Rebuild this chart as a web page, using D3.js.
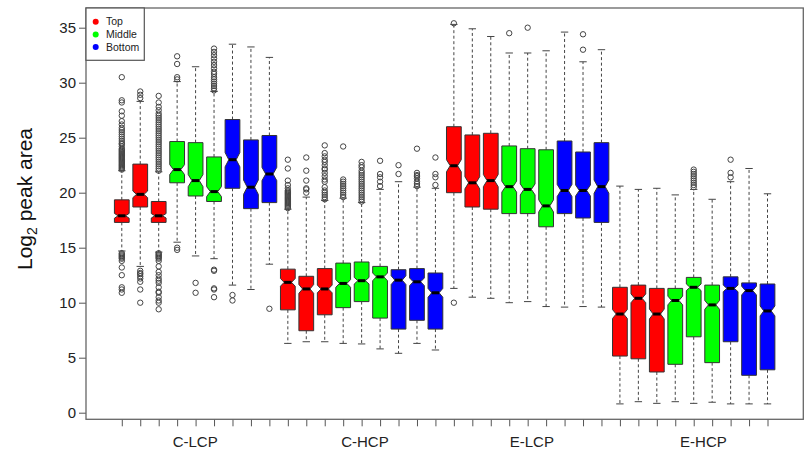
<!DOCTYPE html>
<html>
<head>
<meta charset="utf-8">
<script src="https://cdn.jsdelivr.net/npm/d3@7"></script>
<style>
  body { margin: 0; background: #fff; }
  text { font-family: "Liberation Sans", Arial, sans-serif; }
</style>
</head>
<body>
<script>
// groups of 9 boxes: 3 x Top, 3 x Middle, 3 x Bottom
const groups = ['C-LCP', 'C-HCP', 'E-LCP', 'E-HCP'];
const groupAt = [4.95, 14.15, 23.2, 32.5];
const layers = ['Top', 'Middle', 'Bottom'];
const layerColors = ['#ff0000', '#00ff00', '#0000ff'];
const yTicks = [0, 5, 10, 15, 20, 25, 30, 35];

const q1 = [17.3, 18.7, 17.3, 20.9, 19.7, 19.2, 20.4, 18.55, 19.1,
            9.35, 7.45, 8.9, 9.55, 10.1, 8.6, 7.6, 8.4, 7.6,
            20.0, 18.7, 18.5, 18.1, 18.1, 16.9, 18.1, 17.7, 17.3,
            5.15, 4.9, 3.7, 4.4, 6.9, 4.55, 6.45, 3.4, 3.9];
const med = [17.9, 19.85, 17.9, 22.1, 21.1, 20.1, 23.0, 20.5, 21.7,
             11.85, 11.25, 11.25, 11.75, 12.0, 12.35, 12.05, 11.9, 10.9,
             22.45, 20.9, 21.1, 20.55, 20.3, 18.8, 20.2, 20.2, 20.55,
             8.97, 10.4, 8.97, 10.2, 11.4, 9.8, 11.3, 11.1, 9.25];
const q3 = [19.35, 22.6, 19.2, 24.65, 24.55, 23.25, 26.65, 24.8, 25.2,
            13.05, 12.4, 13.1, 13.6, 13.7, 13.3, 13.0, 13.1, 12.7,
            26.0, 25.25, 25.4, 24.25, 24.0, 23.9, 24.7, 23.7, 24.55,
            11.4, 11.6, 11.3, 11.3, 12.3, 11.6, 12.35, 11.8, 11.7];
const lo = [14.7, 13.3, 14.6, 15.5, 14.25, 14.0, 11.6, 11.2, 13.5,
            6.3, 6.45, 6.45, 6.3, 6.25, 5.8, 5.4, 6.3, 5.7,
            11.3, 10.5, 10.4, 10.0, 10.1, 9.65, 9.6, 9.65, 9.6,
            0.8, 1.0, 0.85, 1.0, 0.85, 0.95, 0.8, 0.8, 0.8];
const hi = [22.0, 28.3, 21.9, 30.1, 31.45, 29.2, 33.5, 33.25, 32.3,
            18.5, 19.6, 19.3, 19.5, 19.1, 20.3, 21.0, 20.5, 20.4,
            35.3, 34.9, 34.2, 32.7, 32.7, 32.9, 34.6, 31.9, 33.0,
            20.6, 20.3, 20.4, 19.8, 20.3, 19.4, 21.0, 22.2, 19.9];
const notch = [0.22, 0.3, 0.2, 0.45, 0.55, 0.45, 0.65, 0.65, 0.6,
               0.35, 0.4, 0.35, 0.35, 0.3, 0.35, 0.4, 0.35, 0.4,
               0.55, 0.55, 0.55, 0.5, 0.5, 0.55, 0.55, 0.5, 0.6,
               0.4, 0.4, 0.45, 0.4, 0.3, 0.4, 0.3, 0.4, 0.45];
const outliers = [
  [22.1,22.2,22.3,22.4,22.5,22.6,22.7,22.8,22.9,23.0,23.1,23.2,23.3,23.4,23.5,23.6,23.7,23.8,23.9,24.0,
   24.2,24.4,24.5,24.7,24.9,25.1,25.3,25.5,25.7,25.9,26.2,26.5,27.0,27.4,28.2,28.4,30.5,
   14.5,14.4,14.3,14.2,14.1,14.0,13.8,13.2,12.5,11.4,11.2,10.9],
  [28.6,28.9,29.2, 12.9,12.7,12.6,12.4,12.2,11.9,11.2,10.0],
  [22.0,22.2,22.4,22.6,22.8,23.0,23.2,23.4,23.6,23.8,24.0,24.2,24.4,24.6,24.8,25.0,25.2,25.4,25.6,25.8,
   26.0,26.2,26.4,26.6,26.8,27.0,27.2,27.5,27.8,28.2,28.8,
   14.5,14.4,14.3,14.2,14.1,14.0,13.8,13.3,12.8,12.5,12.2,12.0,11.8,11.4,11.0,10.9,10.5,10.2,10.0,9.4],
  [30.3,30.5,31.7,32.4, 15.0,14.8],
  [11.8,10.9],
  [29.3,29.5,29.7,29.9,30.1,30.3,30.5,30.8,31.0,31.3,31.6,31.9,32.2,32.5,32.8,33.1, 13.0,12.9,11.3,11.2,10.5],
  [10.7,10.2],
  [],
  [9.45],
  [18.6,18.7,18.8,18.9,19.0,19.1,19.2,19.3,19.4,19.5,19.6,19.7,19.8,19.9,20.0,20.1,20.2,20.4,20.7,21.1,22.2,23.0],
  [20.0,20.3,20.4,21.1,22.0,23.2],
  [19.4,19.6,19.8,20.0,20.2,20.5,21.0,21.2,21.5,21.8,22.1,22.2,22.5,22.8,23.0,23.3,23.6,24.3],
  [19.6,19.8,20.0,20.2,20.4,20.6,20.8,21.0,21.2,24.2],
  [19.2,19.4,19.6,19.8,20.0,20.2,20.4,20.6,20.8,21.0,21.2,21.4,21.6,21.8,22.0,22.3,22.5,22.8],
  [20.6,21.0,21.4,21.7,22.9],
  [21.7,22.5],
  [20.6,20.8,21.0,21.3,21.5,21.6,21.8,24.0],
  [20.7,21.4,21.7,23.2],
  [35.4, 10.0],
  [], [],
  [34.5],
  [35.0],
  [], [],
  [33.0,34.4],
  [],
  [], [], [], [],
  [20.5,20.7,20.9,21.1,21.3,21.5,21.7,21.9,22.1],
  [],
  [21.4,21.8,23.0],
  [], []
];

const W = 807, H = 466;
const pL = 86, pR = 803.3, pT = 8, pB = 419.3;

const x = d3.scaleLinear().domain([-0.94, 37.94]).range([pL, pR]);
const y = d3.scaleLinear().domain([-0.6, 36.79]).range([pB, pT]);

const boxes = q1.map((d, i) => ({
  pos: i + 1, q1: d, med: med[i], q3: q3[i], lo: lo[i], hi: hi[i],
  n: notch[i], out: outliers[i], color: layerColors[Math.floor(i / 3) % 3]
}));

const svg = d3.select('body').append('svg')
    .attr('width', W)
    .attr('height', H);

// whiskers
const wh = svg.append('g');
boxes.forEach(b => {
  [[b.q3, b.hi], [b.q1, b.lo]].forEach(([a, e]) => {
    wh.append('line')
      .attr('x1', x(b.pos)).attr('x2', x(b.pos))
      .attr('y1', y(a)).attr('y2', y(e))
      .attr('stroke', '#444').attr('stroke-width', 1)
      .attr('stroke-dasharray', '3,2.5');
    wh.append('line')
      .attr('x1', x(b.pos - 0.2)).attr('x2', x(b.pos + 0.2))
      .attr('y1', y(e)).attr('y2', y(e))
      .attr('stroke', '#444').attr('stroke-width', 1);
  });
});

// notched boxes
const notchPath = b => {
  const x0 = x(b.pos - 0.4), x1 = x(b.pos + 0.4);
  const m0 = x(b.pos - 0.2), m1 = x(b.pos + 0.2);
  return `M${x0},${y(b.q1)}L${x0},${y(b.med - b.n)}L${m0},${y(b.med)}L${x0},${y(b.med + b.n)}` +
         `L${x0},${y(b.q3)}L${x1},${y(b.q3)}L${x1},${y(b.med + b.n)}L${m1},${y(b.med)}` +
         `L${x1},${y(b.med - b.n)}L${x1},${y(b.q1)}Z`;
};

svg.append('g').selectAll('path')
  .data(boxes)
  .join('path')
    .attr('d', notchPath)
    .attr('fill', d => d.color)
    .attr('stroke', '#333')
    .attr('stroke-width', 1);

svg.append('g').selectAll('line')
  .data(boxes)
  .join('line')
    .attr('x1', d => x(d.pos - 0.2))
    .attr('x2', d => x(d.pos + 0.2))
    .attr('y1', d => y(d.med))
    .attr('y2', d => y(d.med))
    .attr('stroke', '#000')
    .attr('stroke-width', 3);

// outliers
svg.append('g').selectAll('circle')
  .data(boxes.flatMap(b => b.out.map(v => ({ pos: b.pos, v }))))
  .join('circle')
    .attr('cx', d => x(d.pos))
    .attr('cy', d => y(d.v))
    .attr('r', 2.7)
    .attr('fill', 'none')
    .attr('stroke', '#444')
    .attr('stroke-width', 1);

// axes
const yAxis = svg.append('g')
    .attr('transform', `translate(${pL},0)`)
    .call(d3.axisLeft(y).tickValues(yTicks).tickSize(7).tickPadding(3));
yAxis.select('.domain').remove();
yAxis.selectAll('line').attr('stroke', '#555');
yAxis.selectAll('text').attr('font-size', 15).attr('fill', '#222')
    .style('font-family', '"Liberation Sans", Arial, sans-serif');

const xAxis = svg.append('g')
    .attr('transform', `translate(0,${pB})`)
    .call(d3.axisBottom(x).tickValues(d3.range(1, 37)).tickFormat('').tickSize(7));
xAxis.select('.domain').remove();
xAxis.selectAll('line').attr('stroke', '#555');

const gAxis = svg.append('g')
    .attr('transform', `translate(0,${pB})`)
    .call(d3.axisBottom(x).tickValues(groupAt).tickFormat((d, i) => groups[i]).tickSize(0).tickPadding(17));
gAxis.select('.domain').remove();
gAxis.selectAll('text').attr('font-size', 15).attr('fill', '#222')
    .style('font-family', '"Liberation Sans", Arial, sans-serif');

// frame
svg.append('rect')
    .attr('x', pL).attr('y', pT)
    .attr('width', pR - pL).attr('height', pB - pT)
    .attr('fill', 'none').attr('stroke', '#666').attr('stroke-width', 1.3);

// y title
const yt = svg.append('text')
    .attr('transform', 'translate(31.5,199) rotate(-90)')
    .attr('text-anchor', 'middle')
    .attr('font-size', 21)
    .attr('fill', '#111');
yt.append('tspan').text('Log');
yt.append('tspan').attr('font-size', 14).attr('dy', 5).text('2');
yt.append('tspan').attr('dy', -5).text(' peak area');

// legend
const lg = svg.append('g');
lg.append('rect')
    .attr('x', pL).attr('y', pT)
    .attr('width', 58.3).attr('height', 52.3)
    .attr('fill', '#fff').attr('stroke', '#555').attr('stroke-width', 1.2);
layers.forEach((name, i) => {
  lg.append('circle')
    .attr('cx', 95.7).attr('cy', 21.7 + i * 12.7)
    .attr('r', 3).attr('fill', layerColors[i]);
  lg.append('text')
    .attr('x', 106).attr('y', 21.7 + i * 12.7)
    .attr('dy', '0.36em')
    .attr('font-size', 10.5)
    .attr('fill', '#222')
    .text(name);
});
</script>
</body>
</html>
